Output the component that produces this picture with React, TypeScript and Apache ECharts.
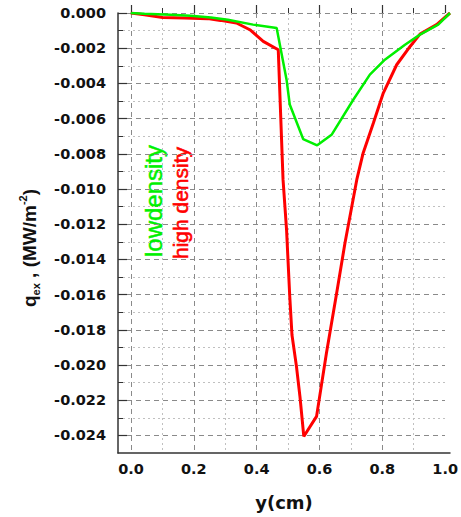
import React, { useEffect, useRef } from 'react';
import * as echarts from 'echarts';

// low density (green)
const lowX = [0, 0.043, 0.125, 0.188, 0.251, 0.304, 0.383, 0.457, 0.472, 0.488, 0.498, 0.54, 0.584, 0.629, 0.697, 0.749, 0.796, 0.859, 0.906, 0.963, 1.0];
const lowY = [0, -0.00004, -0.0001, -0.00015, -0.00025, -0.00038, -0.00066, -0.00085, -0.00227, -0.00379, -0.0052, -0.00716, -0.00752, -0.00692, -0.00493, -0.0035, -0.00265, -0.0018, -0.00123, -0.00066, 0];

// high density (red)
const highX = [0, 0.043, 0.074, 0.1, 0.168, 0.241, 0.281, 0.331, 0.373, 0.415, 0.462, 0.477, 0.488, 0.498, 0.505, 0.519, 0.53, 0.542, 0.582, 0.613, 0.645, 0.671, 0.708, 0.728, 0.76, 0.791, 0.833, 0.875, 0.906, 0.958, 1.0];
const highY = [0, -0.0001, -0.00019, -0.00025, -0.00028, -0.00032, -0.00042, -0.00057, -0.00095, -0.00161, -0.00209, -0.00947, -0.01231, -0.0161, -0.0183, -0.02008, -0.0218, -0.02406, -0.02292, -0.01932, -0.01591, -0.01307, -0.00947, -0.00795, -0.00625, -0.00455, -0.00294, -0.0019, -0.0012, -0.00066, 0];

const xLabelMin = 0;
const xLabelMax = 1.0;
const xLabelStep = 0.2;
const yLabelMin = -0.024;
const yLabelMax = 0;
const yLabelStep = 0.002;

const GREEN = '#00f000';
const RED = '#ff0000';
const AXIS = '#333333';
const LABEL_FONT = { fontFamily: 'DejaVu Sans', fontWeight: 'bold' as const, fontSize: 14.5, color: '#111111' };

export default function App() {
  const ref = useRef<HTMLDivElement>(null);
  useEffect(() => {
    if (!ref.current) return;
    const chart = echarts.init(ref.current, null, { renderer: 'svg' });
    const majorSplit = { show: true, lineStyle: { color: '#8a8a8a', width: 1, type: [5, 4] as any } };
    const minorSplit = { show: true, lineStyle: { color: '#c0c0c0', width: 1, type: [2, 3] as any } };
    chart.setOption({
      animation: false,
      backgroundColor: '#ffffff',
      grid: [
        { left: 118, right: 11, top: 13, bottom: 64 },
        { left: 131, right: 11, top: 13, bottom: 64 },
        { left: 118, right: 16, top: 13, bottom: 81.6 },
      ],
      xAxis: [
        {
          gridIndex: 0, type: 'value', min: -0.04, max: 1.0,
          axisLine: { show: true, onZero: false, lineStyle: { color: AXIS, width: 1.5 } },
          axisTick: { show: false }, axisLabel: { show: false }, splitLine: { show: false },
          name: 'y(cm)', nameLocation: 'middle', nameGap: 40,
          nameTextStyle: { fontFamily: 'DejaVu Sans', fontWeight: 'bold', fontSize: 18, color: '#111111' },
        },
        {
          gridIndex: 1, type: 'value', min: xLabelMin, max: xLabelMax, interval: xLabelStep,
          axisLine: { show: false },
          axisTick: { show: true, inside: true, length: 8, lineStyle: { color: AXIS, width: 1.2 } },
          minorTick: { show: true, splitNumber: 2, length: 5, lineStyle: { color: AXIS, width: 1 } },
          splitLine: { ...majorSplit, showMaxLine: false }, minorSplitLine: minorSplit,
          axisLabel: { ...LABEL_FONT, margin: 8, formatter: (v: number) => v.toFixed(1) },
        },
        { gridIndex: 2, type: 'value', min: 0, max: 1, show: false },
      ],
      yAxis: [
        {
          gridIndex: 0, type: 'value', min: -0.025, max: 0,
          axisLine: { show: true, onZero: false, lineStyle: { color: AXIS, width: 1.5 } },
          axisTick: { show: false }, axisLabel: { show: false }, splitLine: { show: false },
        },
        { gridIndex: 1, type: 'value', min: -0.025, max: 0, show: false },
        {
          gridIndex: 2, type: 'value', min: yLabelMin, max: yLabelMax, interval: yLabelStep,
          axisLine: { show: false },
          axisTick: { show: true, inside: true, length: 9, lineStyle: { color: AXIS, width: 1.2 } },
          minorTick: { show: true, splitNumber: 2, length: 5, lineStyle: { color: AXIS, width: 1 } },
          splitLine: majorSplit, minorSplitLine: minorSplit,
          axisLabel: { ...LABEL_FONT, margin: 12, formatter: (v: number) => (Math.abs(v) < 1e-9 ? '0.000' : v.toFixed(3)) },
        },
      ],
      graphic: [
        {
          type: 'text', x: 153, y: 201, rotation: Math.PI / 2,
          style: { text: 'lowdensity', fill: GREEN, stroke: GREEN, lineWidth: 0.5, font: '24px "Liberation Sans", Arial, sans-serif', align: 'center', verticalAlign: 'middle' },
        },
        {
          type: 'text', x: 180, y: 203, rotation: Math.PI / 2,
          style: { text: 'high density', fill: RED, stroke: RED, lineWidth: 0.6, font: '21px "Liberation Sans", Arial, sans-serif', align: 'center', verticalAlign: 'middle' },
        },
        {
          type: 'text', x: 29, y: 248, rotation: Math.PI / 2,
          style: {
            text: '{q|q}{sub|ex}{n| , (MW/m}{sup|-2}{n|)}',
            align: 'center', verticalAlign: 'middle', fill: '#111111',
            rich: {
              q: { fontFamily: '"Liberation Sans", Arial', fontWeight: 'bold', fontSize: 19, lineHeight: 24, fill: '#111111' },
              n: { fontFamily: '"Liberation Sans", Arial', fontWeight: 'bold', fontSize: 19, lineHeight: 24, fill: '#111111' },
              sub: { fontFamily: '"Liberation Sans", Arial', fontWeight: 'bold', fontSize: 11, lineHeight: 11, verticalAlign: 'bottom', fill: '#111111' },
              sup: { fontFamily: '"Liberation Sans", Arial', fontWeight: 'bold', fontSize: 11, lineHeight: 11, verticalAlign: 'top', fill: '#111111' },
            },
          },
        },
      ],
      series: [
        {
          type: 'line', name: 'high density', xAxisIndex: 0, yAxisIndex: 0, z: 3,
          data: highX.map((x, i) => [x, highY[i]]),
          symbol: 'none', lineStyle: { color: RED, width: 3 }, itemStyle: { color: RED },
        },
        {
          type: 'line', name: 'low density', xAxisIndex: 0, yAxisIndex: 0, z: 4,
          data: lowX.map((x, i) => [x, lowY[i]]),
          symbol: 'none', lineStyle: { color: GREEN, width: 2.5 }, itemStyle: { color: GREEN },
        },
      ],
    });
    return () => chart.dispose();
  }, []);
  return <div ref={ref} style={{ position: 'absolute', left: 0, top: 0, width: 461, height: 517, background: '#fff' }} />;
}
